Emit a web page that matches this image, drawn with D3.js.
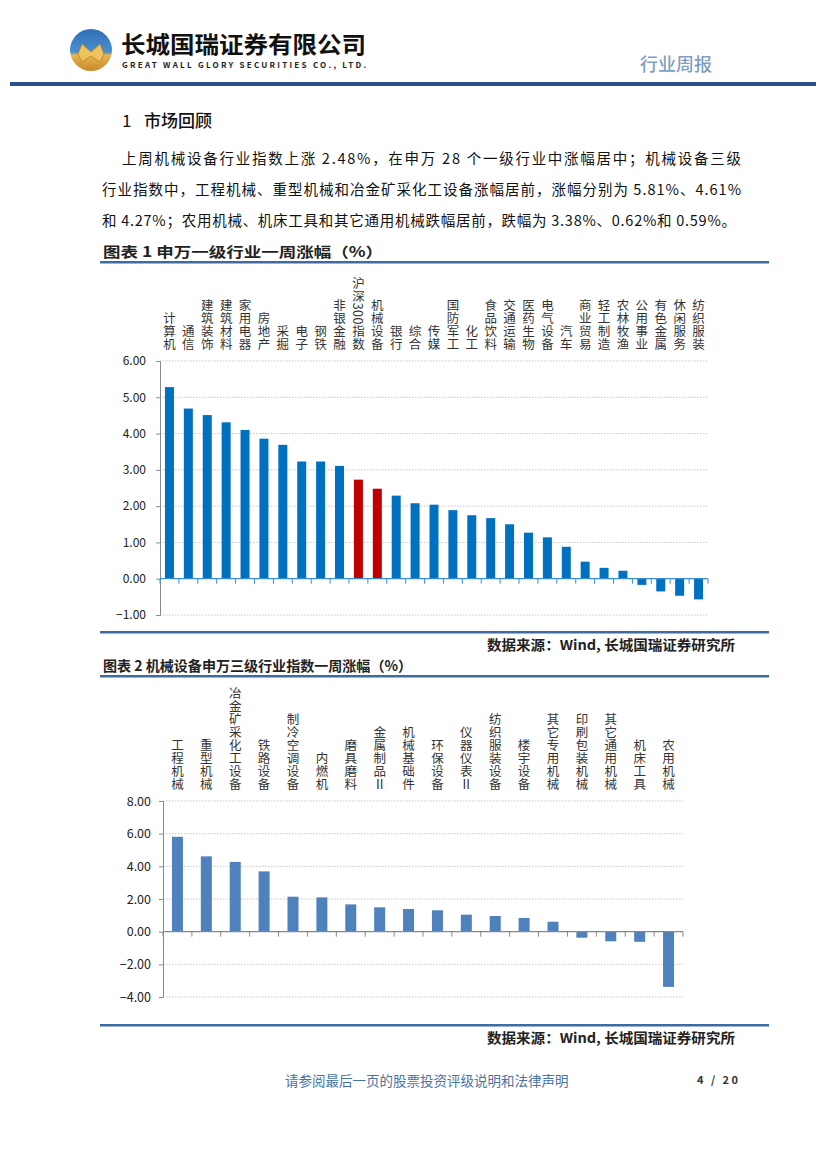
<!DOCTYPE html>
<html><head><meta charset="utf-8">
<script src="https://cdn.jsdelivr.net/npm/d3@7"></script>
<style>
body{margin:0;background:#fff;}
svg text{font-family:"Noto Sans CJK SC","Noto Sans",sans-serif;}
</style></head>
<body>
<svg id="page" width="827" height="1169"></svg>
<script>
// ---------- DATA ----------
const chart1Categories = ["计算机","通信","建筑装饰","建筑材料","家用电器","房地产","采掘","电子","钢铁","非银金融","沪深300指数","机械设备","银行","综合","传媒","国防军工","化工","食品饮料","交通运输","医药生物","电气设备","汽车","商业贸易","轻工制造","农林牧渔","公用事业","有色金属","休闲服务","纺织服装"];
const chart1Values = [5.28,4.69,4.51,4.31,4.10,3.86,3.69,3.23,3.23,3.11,2.73,2.48,2.29,2.08,2.04,1.89,1.75,1.67,1.50,1.27,1.14,0.88,0.47,0.30,0.22,-0.17,-0.35,-0.47,-0.57];
const chart1Highlight = ["沪深300指数","机械设备"];
const chart1Ticks = [6,5,4,3,2,1,0,-1];

const chart2Categories = ["工程机械","重型机械","冶金矿采化工设备","铁路设备","制冷空调设备","内燃机","磨具磨料","金属制品Ⅱ","机械基础件","环保设备","仪器仪表Ⅱ","纺织服装设备","楼宇设备","其它专用机械","印刷包装机械","其它通用机械","机床工具","农用机械"];
const chart2Values = [5.81,4.61,4.27,3.69,2.14,2.10,1.67,1.49,1.39,1.31,1.04,0.96,0.84,0.61,-0.37,-0.59,-0.62,-3.38];
const chart2Ticks = [8,6,4,2,0,-2,-4];

const paragraphLines = [
  "上周机械设备行业指数上涨 2.48%，在申万 28 个一级行业中涨幅居中；机械设备三级",
  "行业指数中，工程机械、重型机械和冶金矿采化工设备涨幅居前，涨幅分别为 5.81%、4.61%",
  "和 4.27%；农用机械、机床工具和其它通用机械跌幅居前，跌幅为 3.38%、0.62%和 0.59%。"
];

// ---------- PAGE ----------
const svg = d3.select("#page");
const navy = "#2b5088";

// logo
const logo = svg.append("g").attr("transform","translate(91,50)");
const defs = svg.append("defs");
const lg = defs.append("linearGradient").attr("id","lg").attr("x1",0).attr("y1",0).attr("x2",0).attr("y2",1);
lg.append("stop").attr("offset","0%").attr("stop-color","#2f6fb6");
lg.append("stop").attr("offset","55%").attr("stop-color","#4b8fd0");
lg.append("stop").attr("offset","62%").attr("stop-color","#e6b451");
lg.append("stop").attr("offset","100%").attr("stop-color","#c98a2a");
logo.append("circle").attr("r",21).attr("fill","url(#lg)");
logo.append("path").attr("d","M-13,4 L-9,-6 L0,2 L9,-6 L13,4 L9,12 L0,6 L-9,12 Z").attr("fill","#f0c25e").attr("stroke","#b97d20").attr("stroke-width",0.8);

svg.append("text").attr("x",121).attr("y",53).attr("font-size",23).attr("font-weight",700).attr("fill","#111")
  .attr("textLength",245).attr("lengthAdjust","spacingAndGlyphs").text("长城国瑞证券有限公司");
svg.append("text").attr("x",122).attr("y",68).attr("font-size",8).attr("font-weight",700).attr("fill","#222")
  .attr("font-family","DejaVu Sans").attr("textLength",244).attr("lengthAdjust","spacing").text("GREAT WALL GLORY SECURITIES CO., LTD.");
svg.append("text").attr("x",640).attr("y",71).attr("font-size",18).attr("fill","#7f9ec2").attr("font-weight",500).text("行业周报");
svg.append("rect").attr("x",10).attr("y",82).attr("width",806).attr("height",4).attr("fill",navy);

// section title & paragraph
svg.append("text").attr("x",122).attr("y",127).attr("font-size",17).attr("fill","#111").text("1");
svg.append("text").attr("x",144).attr("y",127).attr("font-size",17).attr("fill","#111").attr("font-weight",500).text("市场回顾");
const pstarts=[122,102,102], pends=[741,741,736], pys=[164,195,226];
paragraphLines.forEach((t,i)=>{
  svg.append("text").attr("x",pstarts[i]).attr("y",pys[i]).attr("font-size",14.5).attr("fill","#111")
    .attr("textLength",pends[i]-pstarts[i]).attr("lengthAdjust","spacing").text(t);
});

// ---------- helpers ----------
function verticalLabel(g, label, cx, bottomY, fs, ls){
  g.append("text").attr("x",cx).attr("y",bottomY)
    .style("writing-mode","vertical-rl").style("text-orientation","mixed")
    .attr("text-anchor","end").attr("font-size",fs).attr("letter-spacing",ls)
    .attr("fill","#333").text(label);
}

function drawChart(opts){
  const g = svg.append("g");
  const x = d3.scaleBand().domain(opts.cats).range([opts.x0,opts.x1]).paddingInner(opts.pad).paddingOuter(opts.pad/2);
  const y = d3.scaleLinear().domain([opts.ymin,opts.ymax]).range([opts.yb,opts.yt]);
  // gridlines
  g.selectAll(".grid").data(opts.ticks.filter(d=>d!==0)).join("line")
    .attr("x1",opts.x0).attr("x2",opts.x1).attr("y1",d=>y(d)).attr("y2",d=>y(d))
    .attr("stroke","#b8b8b8").attr("stroke-width",0.8).attr("stroke-dasharray","1.5,1.5");
  // y axis
  const ya = d3.axisLeft(y).tickValues(opts.ticks).tickFormat(d3.format(".2f")).tickSize(4).tickPadding(opts.tickPad);
  const yg = g.append("g").attr("transform",`translate(${opts.x0},0)`).call(ya);
  yg.select(".domain").attr("stroke","#888");
  yg.selectAll(".tick line").attr("stroke","#888");
  yg.selectAll("text").attr("font-family",opts.tickFont).attr("font-size",opts.tickSize).attr("fill","#222");
  // bars
  g.selectAll(".bar").data(opts.cats).join("rect")
    .attr("x",d=>x(d)+ (x.bandwidth()-opts.bw)/2).attr("width",opts.bw)
    .attr("y",(d,i)=>y(Math.max(0,opts.vals[i])))
    .attr("height",(d,i)=>Math.abs(y(opts.vals[i])-y(0)))
    .attr("fill",d=>opts.color(d));
  // zero axis with category ticks
  const xa = d3.axisBottom(x).tickSize(5).tickFormat("");
  const xg = g.append("g").attr("transform",`translate(0,${y(0)})`).call(xa);
  xg.select(".domain").attr("stroke",opts.zeroColor).attr("stroke-width",1.2).attr("d",`M${opts.x0},0H${opts.x1}`);
  xg.selectAll(".tick").attr("transform",d=>`translate(${x(d)-x.step()*x.paddingInner()/2},0)`);
  xg.selectAll(".tick line").attr("stroke",opts.zeroColor);
  xg.append("line").attr("x1",opts.x1).attr("x2",opts.x1).attr("y1",0).attr("y2",5).attr("stroke",opts.zeroColor);
  // labels
  opts.cats.forEach(c=>verticalLabel(g,c,x(c)+x.bandwidth()/2,opts.labelBottom,opts.labelSize,opts.ls));
}

// ---------- CHART 1 ----------
svg.append("text").attr("x",103).attr("y",257).attr("font-size",14).attr("font-weight",700).attr("fill","#222")
  .attr("textLength",280).attr("lengthAdjust","spacingAndGlyphs").text("图表 1 申万一级行业一周涨幅（%）");
svg.append("rect").attr("x",100).attr("y",261).attr("width",669).attr("height",2.5).attr("fill","#3f6ba3");
drawChart({cats:chart1Categories, vals:chart1Values, x0:160, x1:708, pad:0.52, bw:9,
  ymin:-1, ymax:6, yb:615, yt:361, ticks:chart1Ticks, tickFont:"DejaVu Sans", tickSize:12, tickPad:10,
  color:d=>chart1Highlight.includes(d)?"#C00000":"#0070C0", zeroColor:"#3a8fd0",
  labelBottom:351, labelSize:12.5, ls:0.5});
svg.append("rect").attr("x",100).attr("y",631).attr("width",669).attr("height",2.5).attr("fill","#3f6ba3");
svg.append("text").attr("x",487).attr("y",650).attr("font-size",13.5).attr("font-weight",700).attr("fill","#222")
  .attr("textLength",248).attr("lengthAdjust","spacingAndGlyphs").text("数据来源：Wind, 长城国瑞证券研究所");

// ---------- CHART 2 ----------
svg.append("text").attr("x",103).attr("y",671).attr("font-size",14).attr("font-weight",700).attr("fill","#222")
  .attr("textLength",309).attr("lengthAdjust","spacingAndGlyphs").text("图表 2 机械设备申万三级行业指数一周涨幅（%）");
svg.append("rect").attr("x",100).attr("y",675).attr("width",669).attr("height",2.5).attr("fill","#3f6ba3");
drawChart({cats:chart2Categories, vals:chart2Values, x0:163, x1:683, pad:0.62, bw:11,
  ymin:-4, ymax:8, yb:997, yt:801, ticks:chart2Ticks, tickFont:"Liberation Sans", tickSize:12.5, tickPad:8,
  color:()=>"#4F81BD", zeroColor:"#888",
  labelBottom:791, labelSize:12.5, ls:0.5});
svg.append("rect").attr("x",100).attr("y",1024).attr("width",669).attr("height",2.5).attr("fill","#3f6ba3");
svg.append("text").attr("x",487).attr("y",1043).attr("font-size",13.5).attr("font-weight",700).attr("fill","#222")
  .attr("textLength",248).attr("lengthAdjust","spacingAndGlyphs").text("数据来源：Wind, 长城国瑞证券研究所");

// footer
svg.append("text").attr("x",285).attr("y",1086).attr("font-size",13.5).attr("fill","#4b72a6").text("请参阅最后一页的股票投资评级说明和法律声明");
svg.append("text").attr("x",697).attr("y",1084).attr("font-size",11).attr("font-weight",700).attr("font-family","DejaVu Sans").attr("fill","#333")
  .attr("textLength",41).attr("lengthAdjust","spacing").text("4 / 20");
</script>
</body></html>
